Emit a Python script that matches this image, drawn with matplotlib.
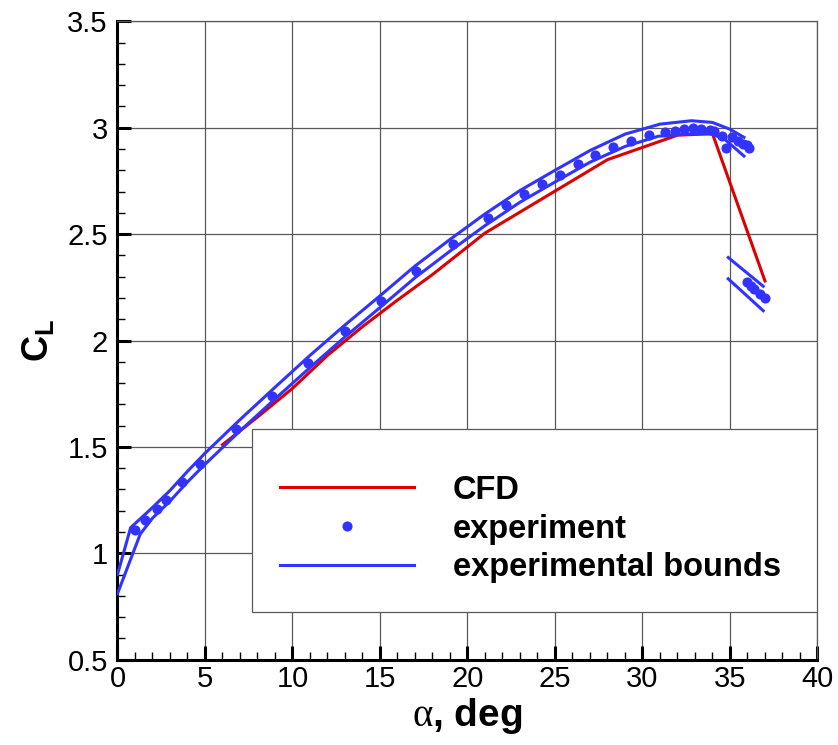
import numpy as np
import matplotlib.pyplot as plt
from matplotlib.patches import Rectangle
from matplotlib.ticker import MultipleLocator

plt.rcParams['font.family'] = ['Liberation Sans', 'DejaVu Sans']
plt.rcParams['mathtext.fontset'] = 'custom'
plt.rcParams['mathtext.rm'] = 'Liberation Serif'
plt.rcParams['mathtext.bf'] = 'Liberation Sans:bold'
plt.rcParams['mathtext.it'] = 'Liberation Serif:italic'

# CFD curve
cfd_alpha = [6, 8, 10, 12, 14, 16, 18, 21, 28, 32, 34, 37]
cfd_cl = [1.51, 1.64, 1.775, 1.93, 2.065, 2.19, 2.31, 2.505, 2.85, 2.965, 2.972, 2.28]

# experiment points
exp_alpha = [1.0, 1.6, 2.25, 2.75, 3.7, 4.7, 6.8, 8.85, 10.9, 13.0, 15.05, 17.05,
             19.15, 21.2, 22.2, 23.25, 24.25, 25.3, 26.3, 27.3, 28.3, 29.35, 30.35,
             31.3, 31.85, 32.35, 32.9, 33.35, 33.85, 34.1, 34.55, 34.8, 35.1, 35.45,
             35.75, 35.95, 36.1, 36.0, 36.2, 36.4, 36.7, 37.0]
exp_cl = [1.11, 1.155, 1.21, 1.25, 1.335, 1.42, 1.585, 1.74, 1.895, 2.045, 2.185, 2.325,
          2.455, 2.578, 2.636, 2.688, 2.734, 2.78, 2.83, 2.873, 2.909, 2.937, 2.964,
          2.981, 2.987, 2.992, 2.997, 2.993, 2.99, 2.985, 2.96, 2.905, 2.955, 2.937,
          2.925, 2.917, 2.906, 2.273, 2.258, 2.24, 2.22, 2.2]

# experimental bounds (pre-stall and post-stall pieces)
ub_alpha = [0, 0.75, 2, 3, 4, 5, 7, 9, 11, 13, 15, 17, 19, 21, 23, 25, 27, 29, 31,
            32.8, 34, 35, 35.8]
ub_cl = [0.90, 1.12, 1.215, 1.295, 1.385, 1.47, 1.628, 1.78, 1.93, 2.073, 2.21,
         2.35, 2.475, 2.595, 2.705, 2.80, 2.893, 2.97, 3.017, 3.033, 3.025, 2.993, 2.955]
lb_alpha = [0, 1.3, 2, 3, 4, 5, 7, 9, 11, 13, 15, 17, 19, 21, 23, 25, 27, 29, 30.9,
            32.8, 33.9, 34.7, 35.8]
lb_cl = [0.81, 1.09, 1.165, 1.245, 1.335, 1.418, 1.575, 1.725, 1.873, 2.017, 2.155,
         2.295, 2.42, 2.54, 2.65, 2.745, 2.838, 2.912, 2.96, 2.972, 2.972, 2.946, 2.867]
ub_post_alpha = [34.9, 36.9]
ub_post_cl = [2.39, 2.255]
lb_post_alpha = [34.9, 36.9]
lb_post_cl = [2.29, 2.14]

RED = '#dd0000'
BLUE = '#3333ff'

fig = plt.figure(figsize=(8.38, 7.45), dpi=100)
ax = fig.add_axes([0.1402, 0.1146, 0.8353, 0.8567])

ax.plot(cfd_alpha, cfd_cl, color=RED, lw=2.2, label='CFD', zorder=3)
ax.plot(exp_alpha, exp_cl, 'o', color=BLUE, ms=7.3, mec='none', label='experiment', zorder=5)
ax.plot(ub_alpha, ub_cl, color=BLUE, lw=2.2, label='experimental bounds', zorder=4)
ax.plot(lb_alpha, lb_cl, color=BLUE, lw=2.2, zorder=4)
ax.plot(ub_post_alpha, ub_post_cl, color=BLUE, lw=2.2, zorder=4)
ax.plot(lb_post_alpha, lb_post_cl, color=BLUE, lw=2.2, zorder=4)

ax.set_xlim(0, 40)
ax.set_ylim(0.5, 3.5)
ax.xaxis.set_minor_locator(MultipleLocator(1))
ax.yaxis.set_minor_locator(MultipleLocator(0.1))
ax.set_xticks(np.arange(0, 41, 5))
ax.set_xticklabels([str(v) for v in range(0, 41, 5)])
ax.set_yticks(np.arange(0.5, 3.51, 0.5))
ax.set_yticklabels(['0.5', '1', '1.5', '2', '2.5', '3', '3.5'])

ax.grid(True, which='major', color='0.35', lw=0.9, zorder=0)
ax.set_axisbelow(True)
ax.tick_params(which='both', direction='in', top=False, right=False, labelsize=21, colors='black')
ax.tick_params(axis='x', which='major', length=10, width=2.2, pad=4)
ax.tick_params(axis='y', which='major', length=10, width=2.2, pad=7)
ax.tick_params(which='minor', length=5.5, width=1.0)
for side in ['left', 'bottom']:
    ax.spines[side].set_linewidth(2.2)
for side in ['top', 'right']:
    ax.spines[side].set_color('0.35')
    ax.spines[side].set_linewidth(0.9)

ax.set_xlabel(r'$\mathrm{\alpha}$, deg', fontsize=28, fontweight='bold', labelpad=2)
ax.set_ylabel(r'$\mathbf{C_L}$', fontsize=26, labelpad=8)

# legend box
box = Rectangle((0.192, 0.0746), 0.808, 0.2864, transform=ax.transAxes,
                facecolor='white', edgecolor='0.35', lw=0.9, zorder=6)
ax.add_patch(box)
leg = ax.legend(loc='center left', bbox_to_anchor=(0.232, 0.2046), frameon=False,
                borderpad=0, borderaxespad=0, handlelength=4.1, handletextpad=1.2,
                labelspacing=0.24, numpoints=1, prop={'weight': 'bold', 'size': 23.5})
leg.set_zorder(7)

fig.savefig('out.png', dpi=100, facecolor='white')
